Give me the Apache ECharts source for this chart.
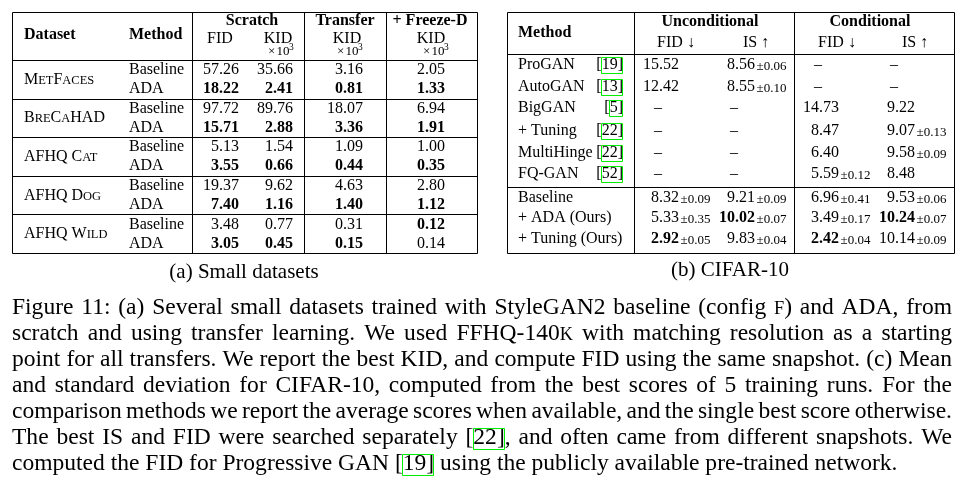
<!DOCTYPE html>
<html>
<head>
<meta charset="utf-8">
<script src="https://cdn.jsdelivr.net/npm/echarts@6/dist/echarts.min.js"></script>
<style>
  html, body { margin: 0; background: #fff; }
  #chart { width: 964px; height: 492px; }
</style>
</head>
<body>
<div id="chart"></div>
<script>
// ---- (a) small datasets ----
var datasets = ['MetFaces', 'BreCaHAD', 'AFHQ Cat', 'AFHQ Dog', 'AFHQ Wild'];
var methodsA = ['Baseline', 'ADA'];
// rows: baseline, ada for each dataset
var scratchFID  = [57.26, 18.22, 97.72, 15.71, 5.13, 3.55, 19.37, 7.40, 3.48, 3.05];
var scratchKID  = [35.66, 2.41, 89.76, 2.88, 1.54, 0.66, 9.62, 1.16, 0.77, 0.45];
var transferKID = [3.16, 0.81, 18.07, 3.36, 1.09, 0.44, 4.63, 1.40, 0.31, 0.15];
var freezeKID   = [2.05, 1.33, 6.94, 1.91, 1.00, 0.35, 2.80, 1.12, 0.12, 0.14];

// ---- (b) CIFAR-10 ----
var methodsB   = ['ProGAN', 'AutoGAN', 'BigGAN', '+ Tuning', 'MultiHinge', 'FQ-GAN', 'Baseline', '+ ADA (Ours)', '+ Tuning (Ours)'];
var citesB     = [19, 13, 5, 22, 22, 52, null, null, null];
var uncondFID   = [15.52, 12.42, null, null, null, null, 8.32, 5.33, 2.92];
var uncondFIDsd = [null, null, null, null, null, null, 0.09, 0.35, 0.05];
var uncondIS    = [8.56, 8.55, null, null, null, null, 9.21, 10.02, 9.83];
var uncondISsd  = [0.06, 0.10, null, null, null, null, 0.09, 0.07, 0.04];
var condFID     = [null, null, 14.73, 8.47, 6.40, 5.59, 6.96, 3.49, 2.42];
var condFIDsd   = [null, null, null, null, null, 0.12, 0.41, 0.17, 0.04];
var condIS      = [null, null, 9.22, 9.07, 9.58, 8.48, 9.53, 10.24, 10.14];
var condISsd    = [null, null, null, 0.13, 0.09, null, 0.06, 0.07, 0.09];

var captionLines = [
  'Figure 11: (a) Several small datasets trained with StyleGAN2 baseline (config ~F~) and ADA, from',
  'scratch and using transfer learning. We used FFHQ-140~K~ with matching resolution as a starting',
  'point for all transfers. We report the best KID, and compute FID using the same snapshot. (c) Mean',
  'and standard deviation for CIFAR-10, computed from the best scores of 5 training runs. For the',
  'comparison methods we report the average scores when available, and the single best score otherwise.',
  'The best IS and FID were searched separately [22], and often came from different snapshots. We',
  'computed the FID for Progressive GAN [19] using the publicly available pre-trained network.'
];

// ---- layout ----
var FONT = '"Liberation Serif", "Times New Roman", serif';
var BLACK = '#000';
var GREEN = '#00ee00';
var A = { left: 12, right: 477, top: 12, bottom: 253, headBottom: 60, groupH: 38.6,
          vlines: [192, 304, 386], nameX: 24, methodX: 129, valX: [239, 293, 363, 445] };
var B = { left: 507, right: 954, top: 12, bottom: 253, headBottom: 54, sep: 187,
          vlines: [634, 794], methodX: 518, citeR: 623,
          rowY: [65, 87, 108, 131, 153, 174, 198, 218, 239], valX: [679, 755, 839, 915] };

var ctx = document.createElement('canvas').getContext('2d');
function textW(t, size, bold) {
  ctx.font = (bold ? 'bold ' : '') + size + 'px ' + FONT;
  return ctx.measureText(t).width;
}

// lowercase letters -> small caps
function smallCaps(str) {
  var segs = [];
  for (var i = 0; i < str.length; i++) {
    var ch = str[i], sc = ch !== ch.toUpperCase();
    var last = segs[segs.length - 1];
    if (last && last.sc === sc) last.t += ch.toUpperCase();
    else segs.push({ t: ch.toUpperCase(), sc: sc });
  }
  return segs;
}
// ~X~ marks small caps
function markedSegs(str) {
  return str.split('~').map(function (t, i) { return { t: t, sc: i % 2 === 1 }; })
    .filter(function (s) { return s.t.length; });
}
function segsWidth(segs, size, bold) {
  var w = 0;
  segs.forEach(function (s) { w += textW(s.t, s.sc ? size * 0.78 : size, bold); });
  return w;
}
function segTexts(segs, x, y, size, bold, align) {
  var total = segsWidth(segs, size, bold);
  var cx = align === 'right' ? x - total : align === 'center' ? x - total / 2 : x;
  return segs.map(function (s) {
    var fs = s.sc ? size * 0.78 : size;
    var el = { type: 'text', x: cx, y: y + (s.sc ? 0.3 * (size - fs) : 0), silent: true,
      style: { text: s.t, fontFamily: FONT, fontSize: fs, fontWeight: bold ? 'bold' : 'normal',
               fill: BLACK, align: 'left', verticalAlign: 'middle' } };
    cx += textW(s.t, fs, bold);
    return el;
  });
}
function txt(t, x, y, size, bold, align) {
  return { type: 'text', x: x, y: y, silent: true,
    style: { text: t, fontFamily: FONT, fontSize: size, fontWeight: bold ? 'bold' : 'normal',
             fill: BLACK, align: align || 'left', verticalAlign: 'middle' } };
}
function box(x, y, w, h) {
  return { type: 'rect', silent: true, shape: { x: x, y: y, width: w, height: h },
           style: { fill: null, stroke: GREEN, lineWidth: 1 } };
}
function hline(x1, x2, y) {
  return { type: 'line', silent: true, shape: { x1: x1, y1: y + 0.5, x2: x2, y2: y + 0.5 },
           style: { stroke: BLACK, lineWidth: 1 } };
}
function vline(x, y1, y2) {
  return { type: 'line', silent: true, shape: { x1: x + 0.5, y1: y1, x2: x + 0.5, y2: y2 },
           style: { stroke: BLACK, lineWidth: 1 } };
}

// ---- cells (positions from layout, content from arrays) ----
var cells = [];
var points = [];
function addCell(x, y, c) { points.push([x, y, cells.length]); cells.push(c); }

function bestIdx(arr, lo, hi, pickMax) {
  var best = -1;
  for (var i = lo; i < hi; i++) {
    if (arr[i] == null) continue;
    if (best < 0 || (pickMax ? arr[i] > arr[best] : arr[i] < arr[best])) best = i;
  }
  return best;
}

var colsA = [scratchFID, scratchKID, transferKID, freezeKID];
datasets.forEach(function (d, g) {
  var top = A.headBottom + g * A.groupH;
  addCell(A.nameX, top + 19.5, { kind: 'sc', text: d });
  methodsA.forEach(function (m, k) {
    var r = g * 2 + k, y = top + (k ? 29 : 10);
    addCell(A.methodX, y, { kind: 'plain', text: m });
    colsA.forEach(function (col, c) {
      addCell(A.valX[c], y, { kind: 'num', v: col[r], bold: bestIdx(col, g * 2, g * 2 + 2, false) === r });
    });
  });
});

var colsB = [[uncondFID, uncondFIDsd, false], [uncondIS, uncondISsd, true],
             [condFID, condFIDsd, false], [condIS, condISsd, true]];
methodsB.forEach(function (m, r) {
  var y = B.rowY[r];
  addCell(B.methodX, y, { kind: 'plain', text: m });
  if (citesB[r] != null) addCell(B.citeR, y, { kind: 'cite', num: String(citesB[r]) });
  colsB.forEach(function (col, c) {
    var vals = col[0];
    addCell(B.valX[c], y, { kind: 'num', v: vals[r], sd: col[1][r],
                            bold: bestIdx(vals, 0, vals.length, col[2]) === r, dashShift: 21 });
  });
});

function renderCell(params, api) {
  var c = cells[api.value(2)];
  var p = api.coord([api.value(0), api.value(1)]);
  var x = p[0], y = p[1];
  if (c.kind === 'plain') return txt(c.text, x, y, 16, false, 'left');
  if (c.kind === 'sc') return { type: 'group', children: segTexts(smallCaps(c.text), x, y, 16, false, 'left') };
  if (c.kind === 'cite') {
    var t = '[' + c.num + ']';
    var left = x - textW(t, 16);
    var bx = left + textW('[', 16) - 0.5;
    return { type: 'group', children: [
      txt(t, left, y, 16, false, 'left'),
      box(Math.round(bx) + 0.5, Math.round(y - 8) + 0.5, Math.round(textW(c.num + ']', 16)), 16)
    ] };
  }
  // numbers
  if (c.v == null) return txt('\u2013', x - c.dashShift, y, 16, false, 'center');
  var kids = [txt(c.v.toFixed(2), x, y, 16, c.bold, 'right')];
  if (c.sd != null) kids.push(txt('\u00b1' + c.sd.toFixed(2), x + 1.5, y + 1.5, 13, false, 'left'));
  return { type: 'group', children: kids };
}

// ---- static graphic: rules, headers, captions ----
var g = [];
// table (a)
g.push({ type: 'rect', silent: true, shape: { x: A.left + 0.5, y: A.top + 0.5, width: A.right - A.left, height: A.bottom - A.top },
         style: { fill: null, stroke: BLACK, lineWidth: 1 } });
A.vlines.forEach(function (x) { g.push(vline(x, A.top, A.bottom)); });
for (var i = 0; i < datasets.length; i++) g.push(hline(A.left, A.right, Math.round(A.headBottom + i * A.groupH)));
g.push(txt('Dataset', 24, 35, 16, true));
g.push(txt('Method', 129, 35, 16, true));
g.push(txt('Scratch', 252, 21, 16, true, 'center'));
g.push(txt('Transfer', 345, 21, 16, true, 'center'));
g.push(txt('+ Freeze-D', 430, 21, 16, true, 'center'));
g.push(txt('FID', 220, 39, 16, false, 'center'));
[[278, 295], [347, 364], [431, 450]].forEach(function (k) {
  g.push(txt('KID', k[0], 39, 16, false, 'center'));
  g.push(txt('\u00d7\u200a10', k[1] - 5.5, 52, 13, false, 'right'));
  g.push(txt('3', k[1] - 6, 47.5, 9.5, false, 'left'));
});
g.push(txt('(a) Small datasets', 244, 272, 21, false, 'center'));

// table (b)
g.push({ type: 'rect', silent: true, shape: { x: B.left + 0.5, y: B.top + 0.5, width: B.right - B.left, height: B.bottom - B.top },
         style: { fill: null, stroke: BLACK, lineWidth: 1 } });
B.vlines.forEach(function (x) { g.push(vline(x, B.top, B.bottom)); });
g.push(hline(B.left, B.right, B.headBottom));
g.push(hline(B.left, B.right, B.sep));
g.push(txt('Method', 518, 33, 16, true));
g.push(txt('Unconditional', 710, 22, 16, true, 'center'));
g.push(txt('Conditional', 870, 22, 16, true, 'center'));
[[676, 'FID \u2193'], [756, 'IS \u2191'], [837, 'FID \u2193'], [915, 'IS \u2191']].forEach(function (h) {
  g.push(txt(h[1], h[0], 43, 16, false, 'center'));
});
g.push(txt('(b) CIFAR-10', 730, 270, 21, false, 'center'));

// caption paragraph, justified
var capLeft = 12, capRight = 952;
var fs = 22;
var lastNatural = segsWidth(markedSegs(captionLines[6]), 22, false);
fs = 22 * 886 / lastNatural;
var spaceW = textW(' ', fs);
captionLines.forEach(function (line, li) {
  var y = 308 + li * 26;
  var words = line.split(' ');
  var ws = words.map(function (w) { return segsWidth(markedSegs(w), fs, false); });
  var sum = ws.reduce(function (a, b) { return a + b; }, 0);
  var gap = li < captionLines.length - 1 ? (capRight - capLeft - sum) / (words.length - 1) : spaceW;
  var x = capLeft;
  words.forEach(function (w, wi) {
    segTexts(markedSegs(w), x, y, fs, false, 'left').forEach(function (e) { g.push(e); });
    var m = /\[(\d+)\]/.exec(w);
    if (m) {
      var bx = x + textW(w.slice(0, m.index + 1), fs) - 0.5;
      g.push(box(Math.round(bx) + 0.5, Math.round(y - 10.5) + 0.5, Math.round(textW(m[1] + ']', fs)), 21));
    }
    x += ws[wi] + gap;
  });
});

var chart = echarts.init(document.getElementById('chart'), null, { renderer: 'canvas' });
chart.setOption({
  animation: false,
  backgroundColor: '#fff',
  grid: { left: 0, right: 0, top: 0, bottom: 0 },
  xAxis: { type: 'value', min: 0, max: 964, show: false },
  yAxis: { type: 'value', min: 0, max: 492, inverse: true, show: false },
  graphic: g,
  series: [{
    type: 'custom',
    coordinateSystem: 'cartesian2d',
    silent: true,
    clip: false,
    renderItem: renderCell,
    data: points
  }]
});
</script>
</body>
</html>
